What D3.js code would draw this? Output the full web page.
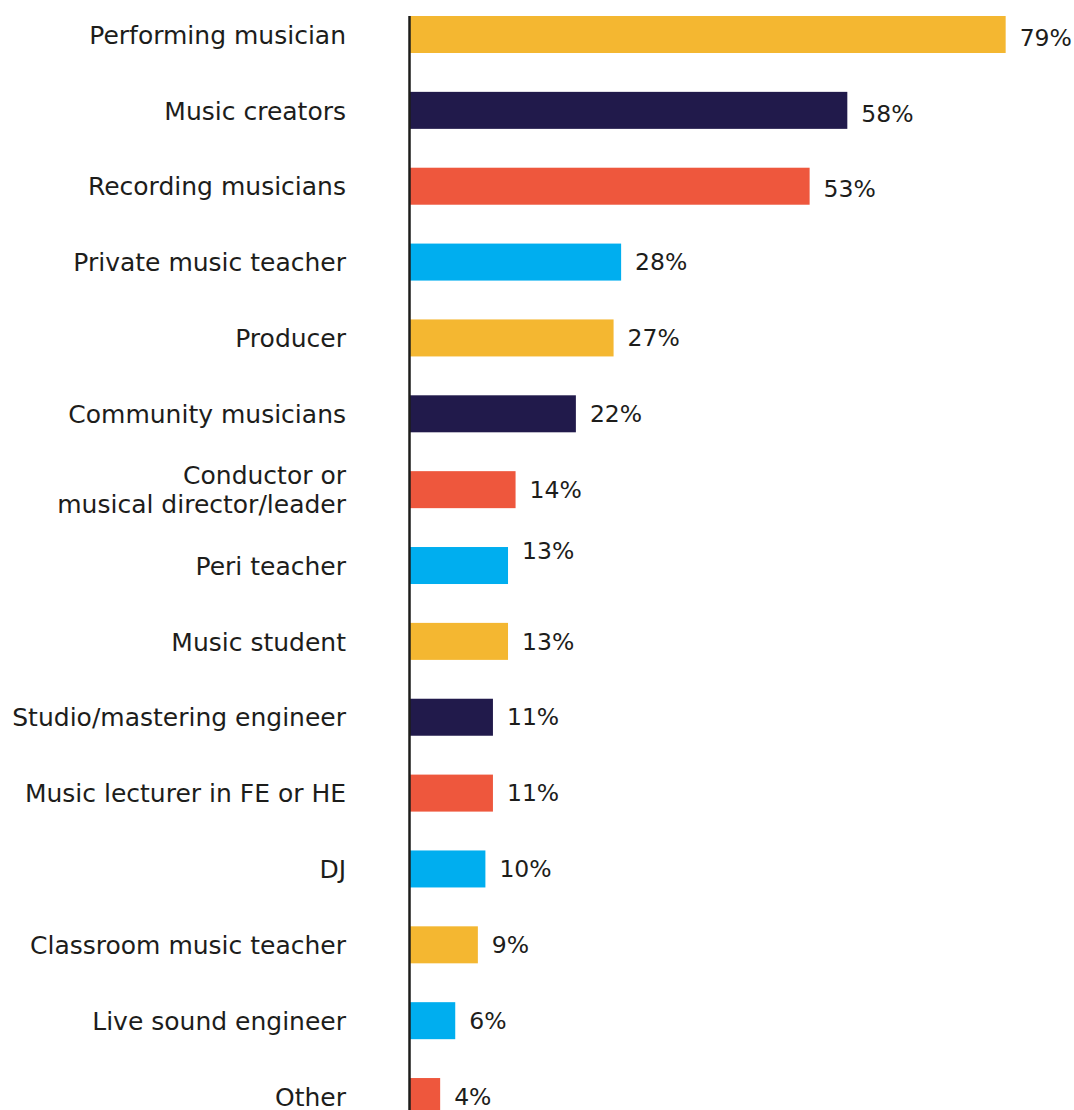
<!DOCTYPE html>
<html>
<head>
<meta charset="utf-8">
<script src="https://cdn.jsdelivr.net/npm/d3@7"></script>
<style>
  html, body { margin: 0; padding: 0; background: #ffffff; }
  svg { display: block; }
  text { font-family: "DejaVu Sans", sans-serif; fill: #1d1d1b; }
</style>
</head>
<body>
<div id="chart"></div>
<script>
// Roles held by respondents (% of all respondents)
const categories = [
  "Performing musician",
  "Music creators",
  "Recording musicians",
  "Private music teacher",
  "Producer",
  "Community musicians",
  "Conductor or\nmusical director/leader",
  "Peri teacher",
  "Music student",
  "Studio/mastering engineer",
  "Music lecturer in FE or HE",
  "DJ",
  "Classroom music teacher",
  "Live sound engineer",
  "Other"
];
const values = [79, 58, 53, 28, 27, 22, 14, 13, 13, 11, 11, 10, 9, 6, 4];

// Bar fill for each row, in row order
const YELLOW = "#f4b731", NAVY = "#211a4b", RED = "#ee573d", CYAN = "#00aeef";
const barColours = [YELLOW, NAVY, RED, CYAN, YELLOW, NAVY, RED, CYAN, YELLOW, NAVY, RED, CYAN, YELLOW, CYAN, RED];

// Small vertical nudges for individual value labels
const valueLabelNudge = { "Peri teacher": -15, "Performing musician": 3, "Music creators": 3, "Recording musicians": 3 };

const width = 1074, height = 1110;
const catFontSize = 25, valueFontSize = 23.5;
const rowStep = 75.86, barHeight = 37, firstBarTop = 16;
const axisX = 409.5, labelRight = 346;

const svg = d3.select("#chart").append("svg")
  .attr("width", width).attr("height", height);

const rows = categories.map((c, i) => ({ category: c, value: values[i], colour: barColours[i] }));

const pad = 1 - barHeight / rowStep;
const y0 = firstBarTop - rowStep * pad / 2;
const y = d3.scaleBand()
  .domain(categories)
  .range([y0, y0 + rowStep * categories.length])
  .paddingInner(pad)
  .paddingOuter(pad / 2);

const x = d3.scaleLinear().domain([0, 100]).range([410, 410 + 754]);

// Bars
svg.append("g").selectAll("rect")
  .data(rows)
  .join("rect")
  .attr("x", x(0))
  .attr("y", d => y(d.category))
  .attr("width", d => x(d.value) - x(0))
  .attr("height", y.bandwidth())
  .attr("fill", d => d.colour);

// Category labels (right-aligned, multi-line where needed)
const catLabels = svg.append("g").selectAll("text")
  .data(rows)
  .join("text")
  .attr("text-anchor", "end")
  .attr("font-size", catFontSize)
  .attr("x", labelRight)
  .attr("y", d => y(d.category) + y.bandwidth() / 2);

const lineHeight = 29;
catLabels.each(function(d) {
  const lines = d.category.split("\n");
  const t = d3.select(this);
  lines.forEach((ln, k) => {
    t.append("tspan")
      .attr("x", labelRight)
      .attr("dy", k === 0 ? (0.35 * catFontSize - (lines.length - 1) * lineHeight / 2 + 0.5) : lineHeight)
      .text(ln);
  });
});

// Value labels
svg.append("g").selectAll("text")
  .data(rows)
  .join("text")
  .attr("font-size", valueFontSize)
  .attr("x", d => x(d.value) + 14)
  .attr("y", d => y(d.category) + y.bandwidth() / 2 + (valueLabelNudge[d.category] || 0))
  .attr("dy", "0.35em")
  .text(d => d.value + "%");

// Vertical baseline axis
const yAxis = d3.axisLeft(y).tickSize(0).tickFormat("");
svg.append("g")
  .attr("transform", `translate(${axisX},0)`)
  .call(yAxis)
  .call(g => g.select(".domain")
    .attr("d", `M0,${firstBarTop}V${height}`)
    .attr("stroke", "#1d1d1b")
    .attr("stroke-width", 2.5));
</script>
</body>
</html>
